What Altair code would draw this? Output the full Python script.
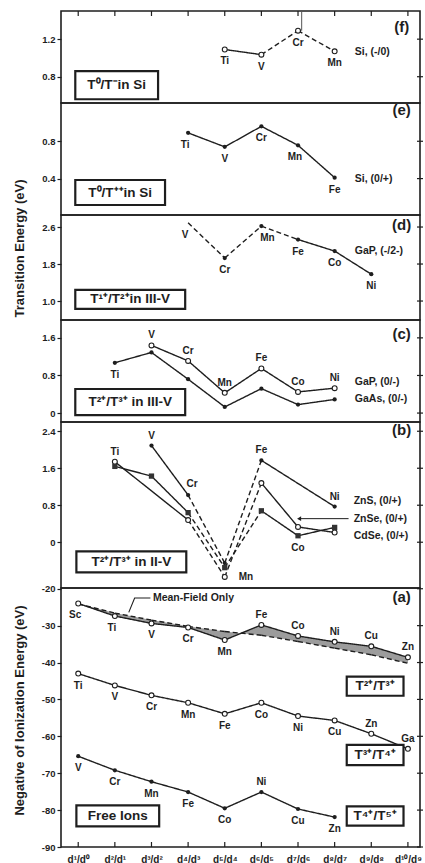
import altair as alt
import pandas as pd

FONT = "Liberation Sans"
INK = "#1e1e1e"

# ---------------- x axis -----------------
X_TICKS = [0, 1, 2, 3, 4, 5, 6, 7, 8, 9]
X_TICK_LABELS = ["d¹/d⁰", "d²/d¹", "d³/d²", "d⁴/d³", "d⁵/d⁴",
                 "d⁶/d⁵", "d⁷/d⁶", "d⁸/d⁷", "d⁹/d⁸", "d¹⁰/d⁹"]
X_DOMAIN = [-0.47, 9.33]
W = 359

# ---------------- panels -----------------
PANEL_ORDER = ["f", "e", "d", "c", "b", "a"]
PANEL_HEIGHT = {"f": 92, "e": 112, "d": 105, "c": 102, "b": 166, "a": 259}
PANEL_DOMAIN = {"f": [0.52, 1.50], "e": [0.01, 1.21], "d": [0.59, 2.86],
                "c": [-0.19, 1.98], "b": [-0.99, 2.60], "a": [-90.0, -19.8]}
PANEL_TICKS = {"f": [0.8, 1.2], "e": [0.4, 0.8], "d": [1.0, 1.8, 2.6],
               "c": [0, 0.8, 1.6], "b": [0, 0.8, 1.6, 2.4],
               "a": [-90, -80, -70, -60, -50, -40, -30, -20]}

# ---------------- series -----------------
# panel (f): Si, (-/0)
F_SI_EL = ["Ti", "V", "Cr", "Mn"]
F_SI_X = [4, 5, 6, 7]
F_SI_Y = [1.09, 1.035, 1.29, 1.07]

# panel (e): Si, (0/+)
E_SI_EL = ["Ti", "V", "Cr", "Mn", "Fe"]
E_SI_X = [3, 4, 5, 6, 7]
E_SI_Y = [0.89, 0.74, 0.96, 0.757, 0.41]

# panel (d): GaP, (-/2-)
D_GAP_EL = ["V", "Cr", "Mn", "Fe", "Co", "Ni"]
D_GAP_X = [3, 4, 5, 6, 7, 8]
D_GAP_Y = [2.69, 1.93, 2.62, 2.33, 2.08, 1.58]

# panel (c): GaP, (0/-) and GaAs, (0/-)
C_GAP_EL = ["V", "Cr", "Mn", "Fe", "Co", "Ni"]
C_GAP_X = [2, 3, 4, 5, 6, 7]
C_GAP_Y = [1.44, 1.11, 0.43, 0.95, 0.45, 0.53]
C_GAAS_EL = ["Ti", "V", "Cr", "Mn", "Fe", "Co", "Ni"]
C_GAAS_X = [1, 2, 3, 4, 5, 6, 7]
C_GAAS_Y = [1.07, 1.29, 0.72, 0.13, 0.52, 0.18, 0.29]

# panel (b): ZnS, ZnSe, CdSe (0/+)
B_ZNS_EL = ["V", "Cr", "Mn", "Fe", "Ni"]
B_ZNS_X = [2, 3, 4, 5, 7]
B_ZNS_Y = [2.09, 1.02, -0.45, 1.77, 0.77]
B_ZNSE_EL = ["Ti", "Cr", "Mn", "Fe", "Co", "Ni"]
B_ZNSE_X = [1, 3, 4, 5, 6, 7]
B_ZNSE_Y = [1.74, 0.48, -0.75, 1.28, 0.33, 0.21]
B_CDSE_EL = ["Ti", "V", "Cr", "Mn", "Fe", "Co", "Ni"]
B_CDSE_X = [1, 2, 3, 4, 5, 6, 7]
B_CDSE_Y = [1.64, 1.43, 0.64, -0.55, 0.68, 0.14, 0.32]

# panel (a): free ions
A_23_EL = ["Sc", "Ti", "V", "Cr", "Mn", "Fe", "Co", "Ni", "Cu", "Zn"]
A_23_X = [0, 1, 2, 3, 4, 5, 6, 7, 8, 9]
A_23_Y = [-24.0, -27.4, -29.4, -30.5, -33.9, -29.8, -32.8, -34.4, -35.6, -38.6]
A_MF_Y = [-24.1, -26.6, -28.5, -30.2, -31.6, -32.6, -34.3, -36.1, -37.9, -40.2]
A_34_EL = ["Ti", "V", "Cr", "Mn", "Fe", "Co", "Ni", "Cu", "Zn", "Ga"]
A_34_X = [0, 1, 2, 3, 4, 5, 6, 7, 8, 9]
A_34_Y = [-43.0, -46.2, -48.9, -50.9, -53.9, -50.9, -54.5, -55.7, -59.3, -63.4]
A_45_EL = ["V", "Cr", "Mn", "Fe", "Co", "Ni", "Cu", "Zn"]
A_45_X = [0, 1, 2, 3, 4, 5, 6, 7]
A_45_Y = [-65.4, -69.2, -72.3, -75.1, -79.5, -75.1, -79.7, -81.9]

# style of each series: segment dash (S solid / D dashed), marker, label placement
SERIES = [
    dict(p="f", el=F_SI_EL, x=F_SI_X, y=F_SI_Y, dash="SDD", mk="open", lab=["b", "b", "b", "b"]),
    dict(p="e", el=E_SI_EL, x=E_SI_X, y=E_SI_Y, dash="SSSS", mk="dot", lab=["bl", "b", "b", "bl", "b"]),
    dict(p="d", el=D_GAP_EL, x=D_GAP_X, y=D_GAP_Y, dash="DDDSS", mk="dot", nomark=[0],
         lab=["bl", "b", "br", "b", "b", "b"]),
    dict(p="c", el=C_GAP_EL, x=C_GAP_X, y=C_GAP_Y, dash="SSSSS", mk="open", lab=["a"] * 6),
    dict(p="c", el=C_GAAS_EL, x=C_GAAS_X, y=C_GAAS_Y, dash="SSSSSS", mk="dot",
         lab=["b", "n", "n", "n", "n", "n", "n"]),
    dict(p="b", el=B_ZNS_EL, x=B_ZNS_X, y=B_ZNS_Y, dash="SDDS", mk="dot", lab=["a", "ar", "n", "a", "a"]),
    dict(p="b", el=B_ZNSE_EL, x=B_ZNSE_X, y=B_ZNSE_Y, dash="SDDSS", mk="open",
         lab=["a", "n", "r", "n", "n", "n"]),
    dict(p="b", el=B_CDSE_EL, x=B_CDSE_X, y=B_CDSE_Y, dash="SSDDSS", mk="square",
         lab=["n", "n", "n", "n", "n", "b", "n"]),
    dict(p="a", el=A_23_EL, x=A_23_X, y=A_23_Y, dash="S" * 9, mk="open",
         lab=["bl", "bl", "b", "b", "b", "a", "a", "a", "a", "a"]),
    dict(p="a", el=[""] * 10, x=A_23_X, y=A_MF_Y, dash="D" * 9, mk="none", lab=["n"] * 10),
    dict(p="a", el=A_34_EL, x=A_34_X, y=A_34_Y, dash="S" * 9, mk="open",
         lab=["b"] * 8 + ["a", "a"]),
    dict(p="a", el=A_45_EL, x=A_45_X, y=A_45_Y, dash="S" * 7, mk="dot",
         lab=["b", "b", "b", "b", "b", "a", "b", "b"]),
]

LABEL_OFFSETS = {"b": (0, 12), "a": (0, -10), "bl": (-3, 12), "br": (6, 12),
                 "ar": (4, -11), "r": (14, 0)}

# series names at the right
SERIES_NAMES = [
    ("f", "Si, (-/0)", 7.55, 1.06), ("e", "Si, (0/+)", 7.55, 0.40),
    ("d", "GaP, (-/2-)", 7.55, 2.08),
    ("c", "GaP, (0/-)", 7.55, 0.66), ("c", "GaAs, (0/-)", 7.55, 0.29),
    ("b", "ZnS, (0/+)", 7.52, 0.90), ("b", "ZnSe, (0/+)", 7.52, 0.51),
    ("b", "CdSe, (0/+)", 7.52, 0.14),
]
PANEL_TAGS = [("f", "(f)", 8.83, 1.33), ("e", "(e)", 8.83, 1.14), ("d", "(d)", 8.83, 2.64),
              ("c", "(c)", 8.83, 1.69), ("b", "(b)", 8.83, 2.42), ("a", "(a)", 8.83, -22.3)]
BOXES = [
    ("f", "T⁰/T⁻in Si", -0.08, 2.18, 0.56, 0.86),
    ("e", "T⁰/T⁺⁺in Si", -0.08, 2.37, 0.117, 0.385),
    ("d", "T¹⁺/T²⁺in III-V", -0.08, 2.92, 0.83, 1.24),
    ("c", "T²⁺/T³⁺ in III-V", -0.08, 2.92, -0.043, 0.512),
    ("b", "T²⁺/T³⁺ in II-V", -0.05, 2.95, -0.65, -0.20),
    ("a", "T²⁺/T³⁺", 7.33, 8.88, -49.0, -43.8),
    ("a", "T³⁺/T⁴⁺", 7.33, 8.88, -67.8, -62.3),
    ("a", "T⁴⁺/T⁵⁺", 7.33, 8.88, -84.2, -79.0),
    ("a", "Free Ions", -0.05, 2.21, -84.4, -78.7),
]
Y_TITLES = {"d": ("Transition Energy (eV)", 33), "a": ("Negative of Ionization Energy (eV)", 122)}

# annotation geometry
MF_TEXT = ("Mean-Field Only", 2.04, -22.5)
MF_LEADER_X = [1.97, 1.54, 1.38]
MF_LEADER_Y = [-22.5, -22.5, -26.4]
ZNSE_ARROW_X = [7.38, 6.03]
ZNSE_ARROW_Y = [0.51, 0.51]
F_CR_LINE = (6.1, 1.29, 1.50)

# ---------------- tables -----------------
seg_rows, pt_rows, lab_rows = [], [], []
sid = 0
for s in SERIES:
    n = len(s["x"])
    for k in range(n - 1):
        for j in (k, k + 1):
            seg_rows.append(dict(p=s["p"], seg=sid, x=s["x"][j], y=s["y"][j], style=s["dash"][k]))
        sid += 1
    for j in range(n):
        if s["mk"] != "none" and j not in s.get("nomark", []):
            pt_rows.append(dict(p=s["p"], x=s["x"][j], y=s["y"][j], mk=s["mk"]))
        if s["lab"][j] != "n":
            lab_rows.append(dict(p=s["p"], x=s["x"][j], y=s["y"][j], t=s["el"][j], code=s["lab"][j]))
SEG = pd.DataFrame(seg_rows)
PTS = pd.DataFrame(pt_rows)
LAB = pd.DataFrame(lab_rows)


def xenc(p):
    if p == "a":
        ax = alt.Axis(values=X_TICKS, labelExpr="%s[datum.value]" % str(X_TICK_LABELS),
                      ticks=False, domain=False, grid=False, labelPadding=7, labelFlush=False,
                      labelFont=FONT, labelFontSize=10, labelFontWeight="bold", labelColor=INK)
        return alt.X("x:Q", scale=alt.Scale(domain=X_DOMAIN, nice=False, zero=False), axis=ax, title=None)
    return alt.X("x:Q", scale=alt.Scale(domain=X_DOMAIN, nice=False, zero=False), axis=None)


def yenc(p):
    if p == "a":
        lexpr = "'' + datum.value"
    else:
        lexpr = "datum.value == 0 ? '0' : format(datum.value, '.1f')"
    kw = dict(values=PANEL_TICKS[p], labelExpr=lexpr, tickSize=4, tickColor=INK, tickWidth=1.2,
              labelPadding=2, labelFont=FONT, labelFontSize=9.5, labelFontWeight="bold",
              labelColor=INK, domain=False, grid=False, minExtent=24, maxExtent=24, labelFlush=False)
    if p in Y_TITLES:
        t, ty = Y_TITLES[p]
        kw.update(title=t, titleY=ty, titleFont=FONT, titleFontSize=13, titleFontWeight="bold",
                  titleColor=INK, titlePadding=11)
        return alt.Y("y:Q", scale=alt.Scale(domain=PANEL_DOMAIN[p], nice=False, zero=False),
                     axis=alt.Axis(**kw))
    return alt.Y("y:Q", scale=alt.Scale(domain=PANEL_DOMAIN[p], nice=False, zero=False),
                 axis=alt.Axis(**kw), title=None)


def panel(p):
    H = PANEL_HEIGHT[p]
    X, Y = xenc(p), yenc(p)
    layers = []
    if p == "a":
        area_df = pd.DataFrame(dict(x=A_23_X, y=A_23_Y, y2=A_MF_Y))
        layers.append(alt.Chart(area_df).mark_area(color="#9c9c9c").encode(x=X, y=Y, y2="y2:Q"))
    seg = SEG[SEG.p == p]
    layers.append(alt.Chart(seg).mark_line(color=INK, strokeWidth=1.4).encode(
        x=X, y=Y, detail="seg:N",
        strokeDash=alt.StrokeDash("style:N", scale=alt.Scale(domain=["S", "D"], range=[[1, 0], [5, 3]]),
                                  legend=None)))
    # annotations: boxes
    bx = pd.DataFrame([dict(t=b[1], x=b[2], x2=b[3], y=b[4], y2=b[5]) for b in BOXES if b[0] == p])
    if len(bx):
        layers.append(alt.Chart(bx).mark_rect(fill="white", stroke=INK, strokeWidth=2.2).encode(
            x=X, x2="x2:Q", y=Y, y2="y2:Q"))
        bxt = bx.assign(x=(bx.x + bx.x2) / 2, y=(bx.y + bx.y2) / 2)
        layers.append(alt.Chart(bxt).mark_text(font=FONT, fontSize=13.5, fontWeight="bold",
                                               color=INK, baseline="middle").encode(x=X, y=Y, text="t:N"))
    if p == "a":
        ld = pd.DataFrame(dict(x=MF_LEADER_X, y=MF_LEADER_Y))
        layers.append(alt.Chart(ld).mark_line(color=INK, strokeWidth=1.1).encode(x=X, y=Y))
        mt = pd.DataFrame([dict(t=MF_TEXT[0], x=MF_TEXT[1], y=MF_TEXT[2])])
        layers.append(alt.Chart(mt).mark_text(font=FONT, fontSize=10.5, fontWeight="bold", color=INK,
                                              align="left", baseline="middle").encode(x=X, y=Y, text="t:N"))
    if p == "b":
        ar = pd.DataFrame(dict(x=ZNSE_ARROW_X, y=ZNSE_ARROW_Y))
        layers.append(alt.Chart(ar).mark_line(color=INK, strokeWidth=1.0).encode(x=X, y=Y))
        ah = ar.iloc[[1]]
        layers.append(alt.Chart(ah).mark_point(shape="triangle-left", filled=True, color=INK, size=22,
                                               opacity=1).encode(x=X, y=Y))
    if p == "f":
        vl = pd.DataFrame([dict(x=F_CR_LINE[0], y=F_CR_LINE[1], y2=F_CR_LINE[2])])
        layers.append(alt.Chart(vl).mark_rule(color="#555", strokeWidth=1).encode(x=X, y=Y, y2="y2:Q"))
    # points
    pts = PTS[PTS.p == p]
    for mk in ["open", "dot", "square"]:
        d = pts[pts.mk == mk]
        if not len(d):
            continue
        if mk == "open":
            m = alt.Chart(d).mark_point(shape="circle", filled=True, fill="white", stroke=INK,
                                        strokeWidth=1.1, size=24, opacity=1)
        elif mk == "dot":
            m = alt.Chart(d).mark_point(shape="circle", filled=True, color=INK, size=18, opacity=1)
        else:
            m = alt.Chart(d).mark_point(shape="square", filled=True, color="#333", size=28, opacity=1)
        layers.append(m.encode(x=X, y=Y))
    # element labels
    lab = LAB[LAB.p == p]
    for code, (dx, dy) in LABEL_OFFSETS.items():
        d = lab[lab.code == code]
        if not len(d):
            continue
        layers.append(alt.Chart(d).mark_text(font=FONT, fontSize=10, fontWeight="bold", color=INK,
                                             dx=dx, dy=dy, baseline="middle",
                                             align="left" if code == "r" else "center").encode(
            x=X, y=Y, text="t:N"))
    # series names
    sn = pd.DataFrame([dict(t=s[1], x=s[2], y=s[3]) for s in SERIES_NAMES if s[0] == p])
    if len(sn):
        layers.append(alt.Chart(sn).mark_text(font=FONT, fontSize=10.5, fontWeight="bold", color=INK,
                                              align="left", baseline="middle").encode(x=X, y=Y, text="t:N"))
    tg = pd.DataFrame([dict(t=s[1], x=s[2], y=s[3]) for s in PANEL_TAGS if s[0] == p])
    layers.append(alt.Chart(tg).mark_text(font=FONT, fontSize=15, fontWeight="bold", color=INK,
                                          baseline="middle").encode(x=X, y=Y, text="t:N"))
    # right-side ticks
    rt = pd.DataFrame(dict(y=PANEL_TICKS[p]))
    layers.append(alt.Chart(rt).mark_rule(color=INK, strokeWidth=1.2).encode(
        y=Y, x=alt.value(W - 3), x2=alt.value(W + 3)))
    # inward x ticks
    if p in ("a", "f"):
        xt = pd.DataFrame(dict(x=X_TICKS))
        if p == "a":
            layers.append(alt.Chart(xt).mark_rule(color=INK, strokeWidth=1.2).encode(
                x=X, y=alt.value(H - 5), y2=alt.value(H)))
        else:
            layers.append(alt.Chart(xt).mark_rule(color=INK, strokeWidth=1.2).encode(
                x=X, y=alt.value(0), y2=alt.value(5)))
    return alt.layer(*layers).properties(width=W, height=H)


chart = alt.vconcat(*[panel(p) for p in PANEL_ORDER], spacing=0, bounds="flush").properties(
    padding={"left": 12, "top": 9, "right": 0, "bottom": 0}, background="white"
).configure_view(stroke=INK, strokeWidth=1.6)

chart.save("out.html", embed_options={"renderer": "svg", "actions": False})
